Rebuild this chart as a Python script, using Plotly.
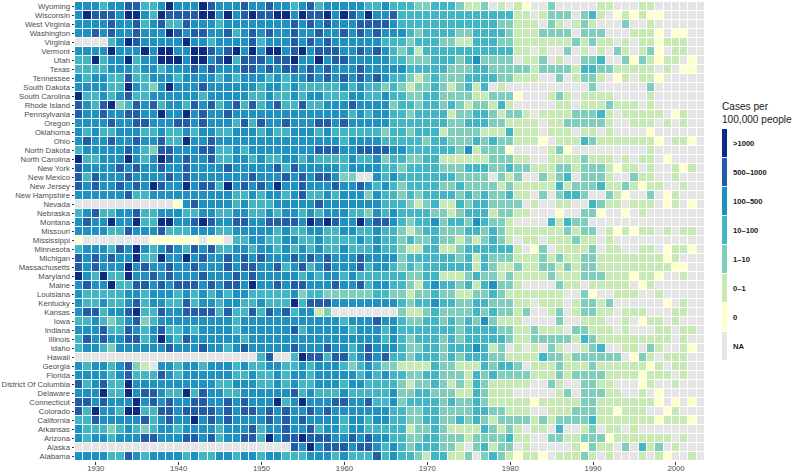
import plotly.graph_objects as go

years = list(range(1928, 2004))
states = ["Wyoming","Wisconsin","West Virginia","Washington","Virginia","Vermont","Utah","Texas","Tennessee",
"South Dakota","South Carolina","Rhode Island","Pennsylvania","Oregon","Oklahoma","Ohio","North Dakota",
"North Carolina","New York","New Mexico","New Jersey","New Hampshire","Nevada","Nebraska","Montana","Missouri",
"Mississippi","Minnesota","Michigan","Massachusetts","Maryland","Maine","Louisiana","Kentucky","Kansas","Iowa",
"Indiana","Illinois","Idaho","Hawaii","Georgia","Florida","District Of Columbia","Delaware","Connecticut",
"Colorado","California","Arkansas","Arizona","Alaska","Alabama"]

band_labels = ["NA", "0", "0\u20131", "1\u201310", "10\u2013100", "100\u2013500", "500\u20131000", ">1000"]
band_colors = ["#e5e5e5", "#ffffcc", "#c7e9b4", "#7fcdbb", "#41b6c4", "#1d91c0", "#225ea8", "#0c2c84"]

# band per state and year: . NA, 0 zero, 1 0-1, 2 1-10, 3 10-100, 4 100-500, 5 500-1000, 6 >1000
years_1928_1953 = [
"44434 45533 46444 65444 54454 4","46555 46643 65555 66464 56556 6","44445 44534 53354 44344 44444 4",
"44545 44544 46545 54453 45454 4","....3 46544 44464 43444 45344 4","44446 44464 66446 65456 46466 4",
"33634 46344 66646 64563 55545 5","33334 44344 34445 45444 55454 5","43443 35334 44344 44343 44434 3",
"44443 36432 46444 54444 44344 3","63343 45334 44444 34444 43343 3","54356 23545 34435 45345 35345 3",
"54454 45544 64464 54454 44444 4","44445 44554 44554 54443 53544 5","43433 44433 43343 44334 44343 3",
"45445 44544 53364 45444 44444 4","34444 45432 55444 55334 34444 4","63344 46434 65454 45334 43433 4",
"54444 54544 54454 44454 44445 3","53544 45444 45454 44444 45444 5","54544 54546 54464 55364 54546 4",
"44444 45334 44444 44443 34344 3","..... ..... ..045 44443 43334 4","34533 44533 44433 44334 43343 4",
"45446 44633 66445 65445 54455 5","44443 35444 53334 44334 44443 4","0.... ....0 00000 .00.3 34433 4",
"34443 54643 45435 45334 43443 4","54545 44633 64464 54454 54544 4","54544 46454 45445 44454 55445 3",
"64363 36445 45444 54445 45444 4","45446 33554 54555 45455 46445 4","43333 34434 44343 43434 43333 3",
"43343 34534 43353 44344 33433 3","45534 45633 54455 55353 35354 5","33432 34523 44444 44443 44444 4",
"44453 35434 53343 44443 44444 4","35454 45534 64354 44444 34444 4","34432 44444 45444 54434 54444 4",
"..... ..... ..... ..... ..35. .","43443 4521. 44344 34443 43344 3","44443 45333 54344 44443 34334 3",
"53453 36444 44444 44334 44334 3","44463 36455 43363 54433 44444 4","55454 44645 45445 54454 54446 3",
"53644 36633 55455 55454 55454 5","33544 44453 45446 45454 44454 5","43332 34323 44344 44344 45344 5",
"43443 44455 44455 45344 55364 5","..... ..... ..... ..... ..... .","44443 35434 44434 33443 44344 3",
]
years_1954_1978 = [
"3453 44444 33433 32233 32112 .","4655 64654 64453 33333 33333 3","5454 54445 55543 33333 33333 3",
"5445 44545 45444 32333 32233 3","5454 54444 44333 23332 21133 3","5645 55445 45432 31333 33333 3",
"6446 45544 44433 22233 32342 2","5454 54445 44444 33333 22233 2","4454 54545 45433 21232 22333 3",
"4333 33434 33232 12232 12313 .","4344 33344 33433 22332 22211 2","3533 44454 44423 32332 32122 1",
"4444 44434 34433 23333 12233 2","4445 54544 44433 33333 22333 2","4443 43333 33233 23331 22221 1",
"4444 44344 44333 33233 22232 3","4445 55445 55544 33333 32412 2","4343 33343 34233 22331 11111 2",
"5444 44344 44332 33332 22333 2","4545 5422. .4343 33333 32222 .","4544 45445 43432 33332 23222 2",
"4533 43444 24332 32333 32323 2","4445 44444 44333 21231 13233 2","4343 44433 24343 33322 12333 1",
"5465 65446 45543 23342 33243 2","3344 33443 34332 12332 22332 3","4334 33334 34332 32232 21212 3",
"3434 33433 34332 11331 12333 3","5454 54445 44442 33333 32313 2","4534 54445 34432 32333 33313 2",
"4343 44343 33333 22331 11232 2","5544 45445 34433 21343 32313 4","4233 22222 23322 12232 21122 3",
"6355 54444 44443 23343 32233 2","3441 2.... ....2 11232 22232 3","4444 44344 45443 22332 32324 2",
"5344 44434 44343 33333 32333 3","4444 44444 44343 23332 32333 3","5444 54434 54443 22332 33343 1",
"3655 35534 54533 23332 32333 2","3434 44323 43221 11132 21113 2","4434 44443 43433 22332 22132 3",
"4334 44344 33332 12232 12132 1","5343 33433 33342 23322 21132 1","4644 45544 53342 33332 32232 1",
"4454 54444 44433 22332 22233 2","4544 44344 34433 22332 23232 1","4453 44344 33333 12232 11113 2",
"5655 54454 54433 22332 22122 2","5464 55545 54343 23332 21.23 1","3344 43433 35343 32133 112.2 3",
]
years_1979_2003 = [
"1.10. .2... ..11. ..11. .....","3311. 1222. 231.0 10100 .....","22111 .21.1 21... 2..1. .....",
"32111 2222. 222.. .1110 .00..","22111 11112 1211. 1.110 111..","3311. 1..2. 1.1.2 1.120 .11..",
"22.11 2.1.. 223.. 20210 11.0.","22221 22221 33221 1111. 1.00.","22111 ..2.1 221.0 1.110 .....",
"1.... ..... .2... ...2. .....","220.. .121. 1111. ...1. .....","31... ..11. 11121 11.1. .....",
"1221. 11112 2231. 11111 .01..","21111 .1122 2221. .111. 1.1..","13111 .111. 11.1. ...0. .....",
"22111 0.111 32111 11110 .110.","20... .120. ..... ...1. .....","2211. .1111 2111. 1.11. 0....",
"23221 11221 22210 11.1. .101.","212.. 2123. 2221. .211. .1...","12111 11312 22311 21011 ..1..",
"2311. 2.233 2..21 0..2. 01...","222.1 ..11. .3211 .111. 01.0.","2211. ..0.. 220.. 0.1.. .....",
"21... .3132 2.... ..... .....","21111 11121 22.10 1011. 1.11.","21.11 .1112 11.1. ..... .....",
"331.0 2.111 12.11 ..11. 0110.","22111 21211 22111 11111 01...","11211 22121 22111 11111 100..",
"12111 12111 22211 10110 ..1..","221.. ..211 .1111 1.01. .....","21111 111.. 20..1 11..1 .....",
"2211. 111.1 2212. ..... 0.1..","2212. .12.1 2211. 111.. .11..","111.. ..2.. 111.. 1.011 .1...",
"22112 111.2 2111. 1...1 1.11.","32112 22221 32111 11111 1.1..","2.1.1 .21.. 123.. 11.21 ..10.",
"21111 32212 22222 .021. 111..","332.1 11211 12111 11101 .11..","22221 11212 22211 11011 1.1..",
"1111. .21.. 2211. ..01. .1...","11... ..12. 22211 ..1.0 .....","11110 11111 22111 11110 .0.0.",
"2111. .1112 22110 111.. 01...","22221 21222 23111 11110 1110.","121.1 1.3.. 12.11 .1... .....",
"2311. .2211 22201 11111 1.1..","22.1. ....1 0211. 2.312 .1...","21011 0.111 21.1. ..1.1 0..1.",
]

code_to_index = {".": 0, "0": 1, "1": 2, "2": 3, "3": 4, "4": 5, "5": 6, "6": 7}
z = []
for a, b, c in zip(years_1928_1953, years_1954_1978, years_1979_2003):
    cells = (a + b + c).replace(" ", "")
    assert len(cells) == len(years), (a, b, c, len(cells))
    z.append([code_to_index[ch] for ch in cells])

n = len(band_colors)
scale = []
for i, c in enumerate(band_colors):
    scale += [[i / n, c], [(i + 1) / n, c]]

fig = go.Figure()
fig.add_trace(go.Heatmap(x=years, y=states, z=z, colorscale=scale, zmin=0, zmax=n, showscale=False,
                         xgap=1, ygap=1, hoverinfo="skip"))
fig.add_trace(go.Heatmap(x=[0], y=band_labels, z=[[i] for i in range(n)], colorscale=scale, zmin=0, zmax=n,
                         showscale=False, ygap=1, xaxis="x2", yaxis="y2", hoverinfo="skip"))

tick_font = dict(family="Liberation Sans, Arial, sans-serif", size=7.7, color="#4d4d4d")
fig.update_layout(
    width=792, height=475, autosize=False, paper_bgcolor="white", plot_bgcolor="white",
    margin=dict(l=75, r=0, t=2, b=14),
    xaxis=dict(domain=[0, 630 / 717], range=[1927.5, 2003.5], tickvals=list(range(1930, 2001, 10)), ticks="outside",
               ticklen=2.5, tickwidth=1, tickcolor="#333333", showgrid=False, zeroline=False, showline=False,
               tickfont=tick_font, automargin=False, ticklabelstandoff=-3),
    yaxis=dict(categoryorder="array", categoryarray=states[::-1], ticks="outside", ticklen=2.5, tickwidth=1,
               tickcolor="#333333", showgrid=False, zeroline=False, tickfont=tick_font, automargin=False,
               dtick=1, range=[-0.5, 50.5]),
    xaxis2=dict(domain=[647 / 717, 652 / 717], anchor="y2", range=[-0.5, 0.5], showticklabels=False, ticks="",
                showgrid=False, zeroline=False, automargin=False),
    yaxis2=dict(domain=[0.2179, 0.7233], anchor="x2", side="right", categoryorder="array",
                categoryarray=band_labels, showgrid=False, zeroline=False, ticks="", automargin=False,
                tickfont=dict(family="Liberation Sans, Arial, sans-serif", size=7.6, color="#1a1a1a", weight="bold"),
                ticklabelstandoff=5, range=[-0.5, 7.5]),
    annotations=[dict(text="Cases per<br>100,000 people", xref="paper", yref="paper", x=646 / 717, y=0.7288,
                      xanchor="left", yanchor="bottom", align="left", showarrow=False, borderpad=0,
                      font=dict(family="Liberation Sans, Arial, sans-serif", size=10.1, color="#1a1a1a"))],
)
fig.write_html("out.html", post_script="document.body.style.margin='0';", config={"displayModeBar": False})
